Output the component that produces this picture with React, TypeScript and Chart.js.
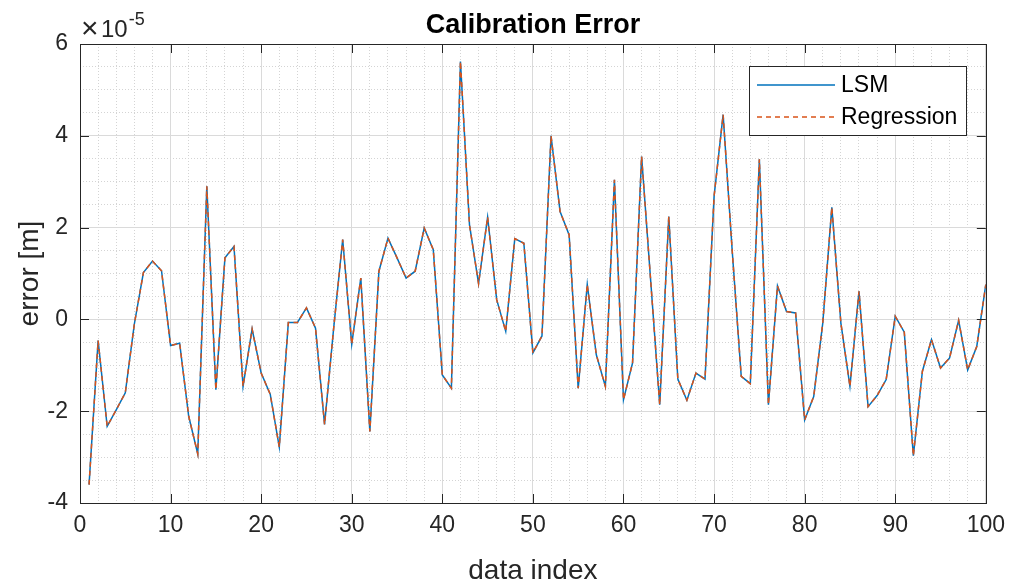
import React, { useEffect, useRef } from "react";
import { Chart, registerables } from "chart.js";

Chart.register(...registerables);

// values in units of 1e-5 m, data index 1..100
const lsmError: number[] = [
  -3.6, -0.46, -2.33, -1.97, -1.6, -0.1, 1.02, 1.27, 1.06, -0.57,
  -0.52, -2.11, -2.93, 2.9, -1.53, 1.34, 1.59, -1.46, -0.21, -1.17,
  -1.63, -2.78, -0.07, -0.07, 0.25, -0.19, -2.29, -0.2, 1.74, -0.54,
  0.9, -2.44, 1.05, 1.77, 1.34, 0.9, 1.05, 1.99, 1.52, -1.21,
  -1.5, 5.62, 2.06, 0.78, 2.23, 0.43, -0.26, 1.76, 1.66, -0.73,
  -0.36, 4.0, 2.35, 1.84, -1.5, 0.76, -0.77, -1.46, 3.04, -1.75,
  -0.95, 3.55, 0.85, -1.86, 2.24, -1.3, -1.76, -1.17, -1.3, 2.68,
  4.46, 1.5, -1.24, -1.4, 3.49, -1.86, 0.73, 0.17, 0.14, -2.19,
  -1.68, -0.08, 2.44, -0.08, -1.46, 0.61, -1.9, -1.66, -1.31, 0.07,
  -0.28, -2.97, -1.13, -0.44, -1.06, -0.84, -0.02, -1.1, -0.59, 0.76,
];

const regressionError: number[] = [
  -3.6, -0.46, -2.33, -1.97, -1.6, -0.1, 1.02, 1.27, 1.06, -0.57,
  -0.52, -2.11, -2.93, 2.9, -1.53, 1.34, 1.59, -1.46, -0.21, -1.17,
  -1.63, -2.78, -0.07, -0.07, 0.25, -0.19, -2.29, -0.2, 1.74, -0.54,
  0.9, -2.44, 1.05, 1.77, 1.34, 0.9, 1.05, 1.99, 1.52, -1.21,
  -1.5, 5.62, 2.06, 0.78, 2.23, 0.43, -0.26, 1.76, 1.66, -0.73,
  -0.36, 4.0, 2.35, 1.84, -1.5, 0.76, -0.77, -1.46, 3.04, -1.75,
  -0.95, 3.55, 0.85, -1.86, 2.24, -1.3, -1.76, -1.17, -1.3, 2.68,
  4.46, 1.5, -1.24, -1.4, 3.49, -1.86, 0.73, 0.17, 0.14, -2.19,
  -1.68, -0.08, 2.44, -0.08, -1.46, 0.61, -1.9, -1.66, -1.31, 0.07,
  -0.28, -2.97, -1.13, -0.44, -1.06, -0.84, -0.02, -1.1, -0.59, 0.76,
];

const xTicks = [0, 10, 20, 30, 40, 50, 60, 70, 80, 90, 100];
const yTicks = [-4, -2, 0, 2, 4, 6];
const seriesNames = ["LSM", "Regression"];
const chartTitle = "Calibration Error";
const xLabel = "data index";
const yLabel = "error [m]";
const exponentTimes = "\u00d7";
const exponentBase = "10";
const exponentPower = "-5";

const BLUE = "#0072BD";
const ORANGE = "#D95319";
const AXIS = "#262626";
const FONT = "'Liberation Sans', Arial, Helvetica, sans-serif";

const decorPlugin = {
  id: "decor",
  afterDraw(chart: any) {
    const ctx = chart.ctx;
    const { left, right, top, bottom } = chart.chartArea;
    const xs = chart.scales.x;
    const ys = chart.scales.y;
    ctx.save();
    // axes box
    ctx.strokeStyle = AXIS;
    ctx.lineWidth = 1;
    ctx.setLineDash([]);
    ctx.strokeRect(Math.round(left) + 0.5, Math.round(top) + 0.5, Math.round(right - left), Math.round(bottom - top));
    // inward tick marks
    const tl = 9;
    ctx.beginPath();
    xTicks.forEach((v) => {
      const px = Math.round(xs.getPixelForValue(v)) + 0.5;
      ctx.moveTo(px, bottom);
      ctx.lineTo(px, bottom - tl);
      ctx.moveTo(px, top);
      ctx.lineTo(px, top + tl);
    });
    yTicks.forEach((v) => {
      const py = Math.round(ys.getPixelForValue(v)) + 0.5;
      ctx.moveTo(left, py);
      ctx.lineTo(left + tl, py);
      ctx.moveTo(right, py);
      ctx.lineTo(right - tl, py);
    });
    ctx.stroke();

    // title
    ctx.fillStyle = "#000";
    ctx.font = `bold 27px ${FONT}`;
    ctx.textAlign = "center";
    ctx.textBaseline = "middle";
    ctx.fillText(chartTitle, (left + right) / 2, 26);

    // exponent label
    ctx.fillStyle = AXIS;
    ctx.textAlign = "left";
    ctx.textBaseline = "alphabetic";
    ctx.font = `30px ${FONT}`;
    ctx.fillText(exponentTimes, left + 1, 38);
    ctx.font = `24px ${FONT}`;
    ctx.fillText(exponentBase, left + 21, 37);
    const w = ctx.measureText(exponentBase).width;
    ctx.font = `18px ${FONT}`;
    ctx.fillText(exponentPower, left + 21 + w + 1, 25);

    // legend
    const lx = 749, ly = 66, lw = 217, lh = 69;
    ctx.fillStyle = "#fff";
    ctx.fillRect(lx, ly, lw, lh);
    ctx.strokeStyle = AXIS;
    ctx.lineWidth = 1;
    ctx.strokeRect(lx + 0.5, ly + 0.5, lw, lh);
    const rows = [
      { name: seriesNames[0], color: BLUE, dash: [] as number[], y: 85 },
      { name: seriesNames[1], color: ORANGE, dash: [5, 4], y: 117 },
    ];
    rows.forEach((r) => {
      ctx.strokeStyle = r.color;
      ctx.lineWidth = 1.5;
      ctx.setLineDash(r.dash);
      ctx.beginPath();
      ctx.moveTo(757, r.y);
      ctx.lineTo(835, r.y);
      ctx.stroke();
      ctx.setLineDash([]);
      ctx.fillStyle = "#000";
      ctx.font = `23px ${FONT}`;
      ctx.textAlign = "left";
      ctx.textBaseline = "middle";
      ctx.fillText(r.name, 841, r.y + 1);
    });
    ctx.restore();
  },
};

export default function App() {
  const ref = useRef<HTMLCanvasElement | null>(null);
  useEffect(() => {
    if (!ref.current) return;
    const toPoints = (arr: number[]) => arr.map((v, i) => ({ x: i + 1, y: v }));
    const chart = new Chart(ref.current, {
      type: "line",
      data: {
        datasets: [
          {
            label: seriesNames[0],
            data: toPoints(lsmError),
            borderColor: BLUE,
            borderWidth: 1.5,
            pointRadius: 0,
            tension: 0,
            fill: false,
            order: 1,
          },
          {
            label: seriesNames[1],
            data: toPoints(regressionError),
            borderColor: ORANGE,
            borderWidth: 1.5,
            borderDash: [5, 4],
            pointRadius: 0,
            tension: 0,
            fill: false,
            order: 0,
          },
        ],
      },
      options: {
        animation: false,
        responsive: false,
        layout: { padding: { left: 0, right: 28, top: 44, bottom: 0 } },
        plugins: { legend: { display: false }, title: { display: false }, tooltip: { enabled: false } },
        scales: {
          x2: {
            type: "linear",
            position: "bottom",
            min: 0,
            max: 100,
            ticks: { display: false, stepSize: 2 },
            grid: { color: "#d4d4d4", lineWidth: 1, drawTicks: false },
            border: { display: false, dash: [1, 2] },
            afterFit: (s: any) => { s.height = 0; },
          },
          y2: {
            type: "linear",
            position: "left",
            min: -4,
            max: 6,
            ticks: { display: false, stepSize: 0.5 },
            grid: { color: "#d4d4d4", lineWidth: 1, drawTicks: false },
            border: { display: false, dash: [1, 2] },
            afterFit: (s: any) => { s.width = 0; },
          },
          x: {
            type: "linear",
            position: "bottom",
            min: 0,
            max: 100,
            afterBuildTicks: (s: any) => { s.ticks = xTicks.map((v) => ({ value: v })); },
            ticks: { color: AXIS, font: { family: FONT, size: 23 }, padding: 9, maxRotation: 0 },
            grid: { color: "#dadada", lineWidth: 1, drawTicks: false },
            border: { display: false },
            title: { display: true, text: xLabel, color: AXIS, font: { family: FONT, size: 28 }, padding: { top: 4, bottom: 0 } },
            afterFit: (s: any) => { s.height = 85; },
          },
          y: {
            type: "linear",
            position: "left",
            min: -4,
            max: 6,
            afterBuildTicks: (s: any) => { s.ticks = yTicks.map((v) => ({ value: v })); },
            ticks: { color: AXIS, font: { family: FONT, size: 23 }, padding: 12, callback: (v: any) => String(v) },
            grid: { color: "#dadada", lineWidth: 1, drawTicks: false },
            border: { display: false },
            title: { display: true, text: yLabel, color: AXIS, font: { family: FONT, size: 28 }, padding: { top: 13, bottom: 0 } },
            afterFit: (s: any) => { s.width = 80; },
          },
        },
      } as any,
      plugins: [decorPlugin],
    });
    return () => chart.destroy();
  }, []);
  return (
    <div style={{ position: "absolute", left: 0, top: 0, width: 1014, height: 588, background: "#fff" }}>
      <canvas ref={ref} width={1014} height={588} style={{ display: "block" }} />
    </div>
  );
}
